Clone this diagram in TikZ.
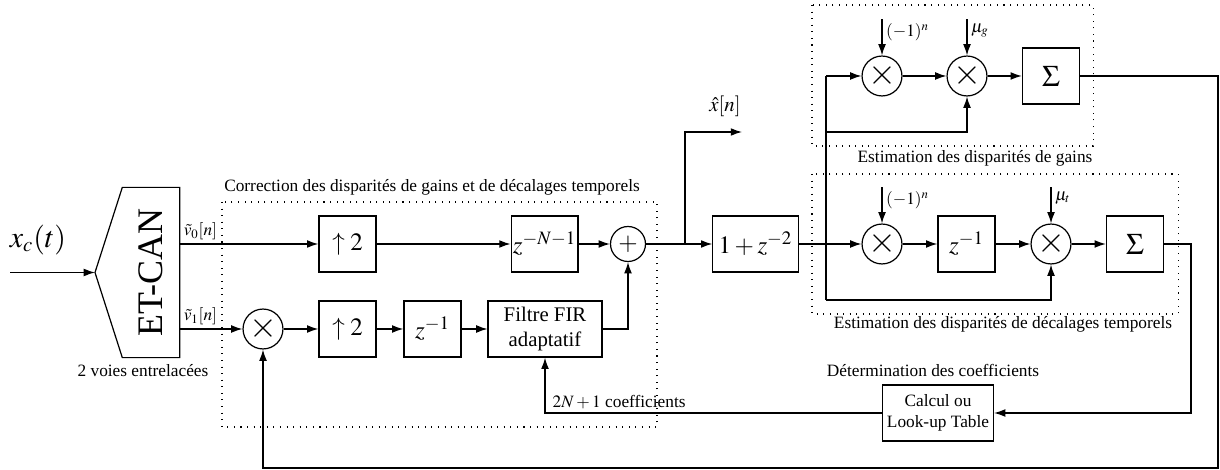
\documentclass[tikz,border=0pt]{standalone}
\usepackage{mathptmx}
\usepackage{fontspec}
\setmainfont{Liberation Serif}
\usepackage{tikz}
\usetikzlibrary{arrows.meta, positioning, calc}

\begin{document}
\begin{tikzpicture}[x=0.0203cm, y=-0.0203cm, line width=0.7pt,
    box/.style={draw, minimum width=#1, minimum height=1.14cm, inner sep=1pt, font=\Large},
    box/.default=1.16cm,
    mult/.style={draw, circle, minimum size=0.81cm, inner sep=0pt, font=\huge},
    arr/.style={-{Latex[length=6.5pt, width=4.5pt]}},
    dotbox/.style={line width=0.6pt, dash pattern=on 0.6pt off 3.2pt},
]
    \useasboundingbox (0,0) rectangle (1220,470);

    % convertisseur entrelace
    \node[minimum width=1.14cm, minimum height=3.43cm, inner sep=0pt] (etcan) at (151, 272.5) {\rotatebox{90}{\huge ET-CAN}};
    \coordinate (tip) at (95, 272.5);
    \coordinate (xin) at (10, 272.5);
    \draw (etcan.north west) -- (etcan.north east) -- (etcan.south east) -- (etcan.south west) -- (tip) -- cycle;
    \node[font=\LARGE] (xclbl) at (38, 240) {$x_c(t)$};
    \node (voies) at (143, 371) {2 voies entrelacées};

    % correction
    \node[box] (upA) at (347.5, 244) {$\uparrow 2$};
    \node[box] (delN) at (544.5, 244) {$z^{-N-1}$};
    \node[mult, minimum size=0.71cm, font=\Large] (add) at (628, 244) {$+$};
    \node[mult] (mulA) at (263, 329) {$\times$};
    \node[box] (upB) at (347.5, 329) {$\uparrow 2$};
    \node[box] (delB) at (432.5, 329) {$z^{-1}$};
    \node[box=2.31cm, font=\large, align=center] (fir) at (545, 329) {Filtre FIR\\adaptatif};
    \node[box=1.73cm] (comp) at (755.5, 244) {$1+z^{-2}$};

    % estimation des gains
    \node[mult] (gmulA) at (882, 76) {$\times$};
    \node[mult] (gmulB) at (967, 76) {$\times$};
    \node[box, font=\LARGE] (gsum) at (1051, 76) {$\Sigma$};

    % estimation des decalages
    \node[mult] (tmulA) at (882, 244) {$\times$};
    \node[box] (tdel) at (966.5, 244) {$z^{-1}$};
    \node[mult] (tmulB) at (1051, 244) {$\times$};
    \node[box, font=\LARGE] (tsum) at (1135, 244) {$\Sigma$};

    \node[box=2.25cm, font=\normalsize, align=center] (calc) at (938, 413) {Calcul ou\\Look-up Table};

    \coordinate (split) at (685, 244);
    \coordinate (xhat) at (742, 132);
    \coordinate (tap) at (826, 244);
    \coordinate (gfb) at (826, 132);
    \coordinate (tfb) at (826, 300);
    \coordinate (gout) at (1218, 468);
    \coordinate (tout) at (1191, 413);

    % liaisons
    \draw[arr] (xin) -- (tip);
    \draw[arr] (etcan.east |- upA) -- node[pos=0, above right, inner sep=2pt] {$\tilde{v}_0[n]$} (upA);
    \draw[arr] (etcan.east |- mulA) -- node[pos=0, above right, inner sep=2pt] {$\tilde{v}_1[n]$} (mulA);
    \draw[arr] (upA) -- (delN);
    \draw[arr] (delN) -- (add);
    \draw[arr] (add) -- (comp);
    \draw[arr] (split) |- node[pos=0.85, above=5pt, font=\large] {$\hat{x}[n]$} (xhat);
    \draw[arr] (mulA) -- (upB);
    \draw[arr] (upB) -- (delB);
    \draw[arr] (delB) -- (fir);
    \draw[arr] (fir) -| (add);
    \draw[arr] (comp) -- (tmulA);

    \draw (tap |- gmulA) -- (tfb);
    \draw[arr] (tap |- gmulA) -- (gmulA);
    \draw[arr] (gfb) -| (gmulB);
    \draw[arr] (tfb) -| (tmulB);

    \draw[arr] (gmulA) -- (gmulB);
    \draw[arr] (gmulB) -- (gsum);
    \draw[arr] (gmulA.north) ++(0,-36) node[below right, inner sep=2pt] {$(-1)^n$} -- (gmulA.north);
    \draw[arr] (gmulB.north) ++(0,-36) node[below right, inner sep=2pt] {$\mu_g$} -- (gmulB.north);

    \draw[arr] (tmulA) -- (tdel);
    \draw[arr] (tdel) -- (tmulB);
    \draw[arr] (tmulB) -- (tsum);
    \draw[arr] (tmulA.north) ++(0,-36) node[below right, inner sep=2pt] {$(-1)^n$} -- (tmulA.north);
    \draw[arr] (tmulB.north) ++(0,-36) node[below right, inner sep=2pt] {$\mu_t$} -- (tmulB.north);

    \draw[arr] (gsum.east) -| (gout) -| (mulA.south);
    \draw[arr] (tsum.east) -| (tout) -- (calc.east);
    \draw[arr] (calc.west) -| node[pos=0.39, above, inner sep=2pt] {$2N+1$ coefficients} (fir.south);

    % blocs en pointilles
    \draw[dotbox] (222,202) rectangle (657,427);
    \draw[dotbox] (812,5) rectangle (1093,146);
    \draw[dotbox] (812,174) rectangle (1178,314);
    \node (corrlbl) at (432,187) {Correction des disparités de gains et de décalages temporels};
    \node (gainlbl) at (975,158) {Estimation des disparités de gains};
    \node (declbl) at (1003,324) {Estimation des disparités de décalages temporels};
    \node (detlbl) at (933,370) {Détermination des coefficients};
\end{tikzpicture}
\end{document}
